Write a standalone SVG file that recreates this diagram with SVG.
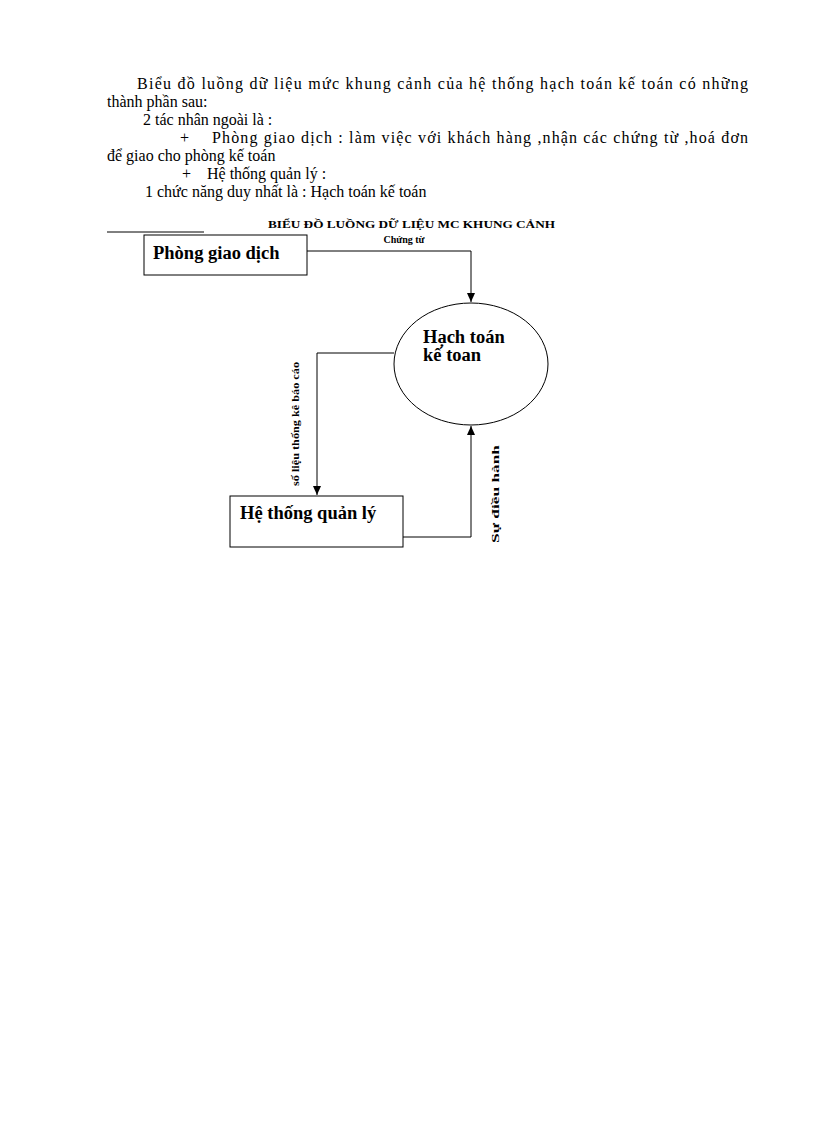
<svg xmlns="http://www.w3.org/2000/svg" width="816" height="1123" viewBox="0 0 816 1123">
<style>
.t{font-family:"Liberation Serif",serif;font-size:16px;fill:#000}
.b{font-family:"Liberation Serif",serif;font-weight:bold;fill:#000}
.s{fill:#fff;stroke:#000;stroke-width:1}
.c{fill:none;stroke:#000;stroke-width:1}
</style>
<defs><marker id="a" markerWidth="10" markerHeight="10" refX="9" refY="5" orient="auto" markerUnits="userSpaceOnUse"><path d="M0,1 L9,5 L0,9 z" fill="#000"/></marker></defs>
<rect width="816" height="1123" fill="#fff"/>
<text class="t" x="137" y="89" textLength="611" lengthAdjust="spacing">Biểu đồ luồng dữ liệu mức khung cảnh của hệ thống hạch toán kế toán có những</text>
<text class="t" x="107" y="107">thành phần sau:</text>
<text class="t" x="143" y="125">2 tác nhân ngoài là :</text>
<text class="t" x="180" y="143">+</text>
<text class="t" x="212" y="143" textLength="536" lengthAdjust="spacing">Phòng giao dịch : làm việc với khách hàng ,nhận các chứng từ ,hoá đơn</text>
<text class="t" x="107" y="161">để giao cho phòng kế toán</text>
<text class="t" x="182" y="179">+</text>
<text class="t" x="207" y="179">Hệ thống quản lý :</text>
<text class="t" x="145" y="197">1 chức năng duy nhất là : Hạch toán kế toán</text>
<text class="b" x="268" y="228" font-size="11" textLength="287" lengthAdjust="spacingAndGlyphs">BIỂU ĐỒ LUỒNG DỮ LIỆU MC KHUNG CẢNH</text>
<line x1="107" y1="232" x2="204" y2="232" stroke="#000"/>
<g id="connectors">
<path class="c" d="M307,251 H471 V302" marker-end="url(#a)"/>
<path class="c" d="M394,353 H317 V495" marker-end="url(#a)"/>
<path class="c" d="M403,537 H471 V426" marker-end="url(#a)"/>
<text class="b" x="404" y="243" font-size="10" text-anchor="middle">Chứng từ</text>
<text class="b" font-size="10" transform="translate(299,486) rotate(-90)" textLength="124" lengthAdjust="spacingAndGlyphs">số liệu thống kê báo cáo</text>
<text class="b" font-size="11" transform="translate(499,543) rotate(-90)" textLength="98" lengthAdjust="spacingAndGlyphs">Sự điều hành</text>
</g>
<g id="phong"><rect class="s" x="144" y="235" width="163" height="40"/><text class="b" x="153" y="259" font-size="18.5">Phòng giao dịch</text></g>
<g id="hachtoan"><ellipse class="s" cx="471" cy="364" rx="77" ry="61"/><text class="b" x="423" y="343" font-size="18.5">Hạch toán</text><text class="b" x="423" y="361" font-size="18.5">kế toan</text></g>
<g id="hethong"><rect class="s" x="230" y="496" width="173" height="51"/><text class="b" x="240" y="519" font-size="18.5">Hệ thống quản lý</text></g>
</svg>
